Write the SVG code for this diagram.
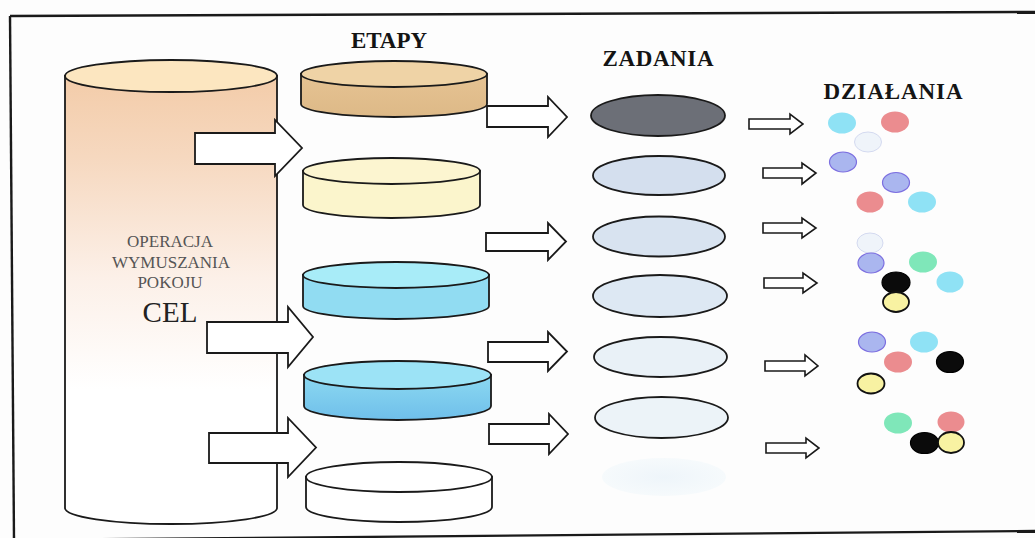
<svg xmlns="http://www.w3.org/2000/svg" width="1035" height="538" viewBox="0 0 1035 538">
<style>
.ln{stroke:#1a1a1a;stroke-width:1.8;fill:none}
.arr{fill:#fff;stroke:#1a1a1a;stroke-width:1.8;stroke-linejoin:miter}
.sarr{fill:#fff;stroke:#1a1a1a;stroke-width:1.6}
.ttl{font-family:"Liberation Serif","Times New Roman",serif;font-weight:bold;font-size:23px;fill:#141414;text-anchor:middle}
.lbl{font-family:"Liberation Serif","Times New Roman",serif;font-size:17px;fill:#555;text-anchor:middle}
.zad{stroke:#1a1a1a;stroke-width:1.8}
.cy{fill:#8fe2f5}.pk{fill:#eb8c8f}.lv{fill:#aab6ef;stroke:#7c6fe0;stroke-width:1.2}
.lt{fill:#eff4fa;stroke:#d4daf0;stroke-width:1}.gr{fill:#7fe7b9}
.bk{fill:#0b0b0b;stroke:#000;stroke-width:1.2}.ye{fill:#f8f2a2;stroke:#111;stroke-width:1.8}
</style>
<defs>
<linearGradient id="gCyl" x1="0" y1="0" x2="0" y2="1">
<stop offset="0" stop-color="#f3cca9"/>
<stop offset="0.18" stop-color="#f6d8bf"/>
<stop offset="0.45" stop-color="#fcf0e8"/>
<stop offset="0.7" stop-color="#ffffff"/>
<stop offset="1" stop-color="#ffffff"/>
</linearGradient>
<linearGradient id="gTan" x1="0" y1="0" x2="0" y2="1">
<stop offset="0" stop-color="#e6c393"/>
<stop offset="1" stop-color="#ddb987"/>
</linearGradient>
<linearGradient id="gBlue" x1="0" y1="0" x2="0" y2="1">
<stop offset="0" stop-color="#8cd9f1"/>
<stop offset="1" stop-color="#6fbfea"/>
</linearGradient>
<radialGradient id="gFaint" cx="0.5" cy="0.5" r="0.5">
<stop offset="0" stop-color="#eef5fa"/>
<stop offset="1" stop-color="#f6fafc"/>
</radialGradient>
</defs>
<rect width="1035" height="538" fill="#fdfdfd"/>
<g id="frame" class="ln" style="stroke-width:2.4">
<line x1="10" y1="16" x2="1035" y2="12"/>
<line x1="10" y1="16" x2="14" y2="540"/>
<line x1="11" y1="540" x2="1035" y2="531"/>
</g>

<g id="cel">
<path d="M65,76 L65,508 A106,16 0 0 0 277,508 L277,76 Z" fill="url(#gCyl)" class="ln" style="fill:url(#gCyl)"/>
<ellipse cx="171" cy="76" rx="106" ry="16" fill="#fce6c0" stroke="#1a1a1a" stroke-width="1.8"/>
<text class="lbl" x="170" y="247">OPERACJA</text>
<text class="lbl" x="171" y="268">WYMUSZANIA</text>
<text class="lbl" x="170" y="288">POKOJU</text>
<text x="170" y="322" font-family="Liberation Serif, Times New Roman, serif" font-size="29" fill="#222" text-anchor="middle">CEL</text>
</g>

<text id="t-etapy" class="ttl" x="389" y="48">ETAPY</text>
<text id="t-zadania" class="ttl" x="658" y="66" textLength="111">ZADANIA</text>
<text id="t-dzialania" class="ttl" x="893" y="99" textLength="139">DZIAŁANIA</text>

<g id="etap1">
<path d="M301,74 L301,104 A93,13 0 0 0 487,104 L487,74 Z" fill="url(#gTan)" stroke="#1a1a1a" stroke-width="1.8"/>
<ellipse cx="394" cy="74" rx="93" ry="13" fill="#efd3a6" stroke="#1a1a1a" stroke-width="1.8"/>
</g>
<g id="etap2">
<path d="M303,171 L303,205 A88.5,13 0 0 0 480,205 L480,171 Z" fill="#fbf5cc" stroke="#1a1a1a" stroke-width="1.8"/>
<ellipse cx="391.5" cy="171" rx="88.5" ry="13" fill="#fcf5d0" stroke="#1a1a1a" stroke-width="1.8"/>
</g>
<g id="etap3">
<path d="M303,275 L303,306 A93,13 0 0 0 489,306 L489,275 Z" fill="#91dcf2" stroke="#1a1a1a" stroke-width="1.8"/>
<ellipse cx="396" cy="275" rx="93" ry="13" fill="#a8ecf8" stroke="#1a1a1a" stroke-width="1.8"/>
</g>
<g id="etap4">
<path d="M304,375 L304,406 A93.5,14 0 0 0 491,406 L491,375 Z" fill="url(#gBlue)" stroke="#1a1a1a" stroke-width="1.8"/>
<ellipse cx="397.5" cy="375" rx="93.5" ry="14" fill="#9ce3f6" stroke="#1a1a1a" stroke-width="1.8"/>
</g>
<g id="etap5">
<path d="M306,477 L306,507 A93,15 0 0 0 492,507 L492,477 Z" fill="#fff" stroke="#1a1a1a" stroke-width="1.8"/>
<ellipse cx="399" cy="477" rx="93" ry="15" fill="#fff" stroke="#1a1a1a" stroke-width="1.8"/>
</g>

<g id="zad1"><ellipse class="zad" cx="658" cy="115.5" rx="67" ry="20.5" fill="#6c6f77"/></g>
<g id="zad2"><ellipse class="zad" cx="659" cy="175.5" rx="66" ry="19.5" fill="#d4dfee"/></g>
<g id="zad3"><ellipse class="zad" cx="659" cy="236.5" rx="66" ry="20" fill="#d8e3f0"/></g>
<g id="zad4"><ellipse class="zad" cx="660" cy="296" rx="67" ry="21" fill="#dde8f3"/></g>
<g id="zad5"><ellipse class="zad" cx="660.5" cy="357" rx="66.5" ry="20" fill="#e9f1f7"/></g>
<g id="zad6"><ellipse class="zad" cx="661.5" cy="417.5" rx="66.5" ry="20.5" fill="#ecf3f8"/></g>
<g id="zad7"><ellipse cx="664" cy="477" rx="62" ry="19" fill="url(#gFaint)"/></g>

<g id="dzialania">
<ellipse class="cy" cx="842" cy="123" rx="14" ry="10.5"/>
<ellipse class="pk" cx="895" cy="122" rx="14" ry="10.5"/>
<ellipse class="lt" cx="868" cy="142" rx="13.5" ry="10"/>
<ellipse class="lv" cx="843" cy="162" rx="13.5" ry="10"/>
<ellipse class="lv" cx="896" cy="182.5" rx="13.5" ry="10"/>
<ellipse class="pk" cx="870" cy="202" rx="13.5" ry="10.5"/>
<ellipse class="cy" cx="922" cy="202" rx="14" ry="10.5"/>
<ellipse class="lt" cx="870" cy="243" rx="13" ry="10"/>
<ellipse class="lv" cx="871" cy="263" rx="13" ry="10"/>
<ellipse class="gr" cx="923" cy="262" rx="14" ry="10.5"/>
<ellipse class="bk" cx="896" cy="282.5" rx="14" ry="10.5"/>
<ellipse class="cy" cx="950" cy="282" rx="13.5" ry="10.5"/>
<ellipse class="ye" cx="896" cy="302" rx="13" ry="10"/>
<ellipse class="lv" cx="872" cy="342" rx="13.5" ry="10"/>
<ellipse class="cy" cx="924" cy="342" rx="14" ry="10.5"/>
<ellipse class="pk" cx="898" cy="362" rx="14" ry="10.5"/>
<ellipse class="bk" cx="950" cy="362" rx="13.5" ry="10.5"/>
<ellipse class="ye" cx="871" cy="383.5" rx="13.5" ry="10"/>
<ellipse class="gr" cx="898" cy="423" rx="14" ry="10.5"/>
<ellipse class="pk" cx="951" cy="422" rx="13.5" ry="10.5"/>
<ellipse class="bk" cx="924.5" cy="443" rx="14" ry="10.5"/>
<ellipse class="ye" cx="951" cy="442.5" rx="13" ry="10.5"/>
</g>

<g id="connectors">
<polygon class="arr" points="195,133 275,133 275,120 302,148 275,176 275,164 195,164"/>
<polygon class="arr" points="207,322 288,322 288,307 313,337 288,367 288,353 207,353"/>
<polygon class="arr" points="209,433 288,433 288,418 316,447.5 288,477 288,463 209,463"/>
<polygon class="arr" points="487,106 548,106 548,97 567,117 548,137 548,127 487,127"/>
<polygon class="arr" points="486,233 548,233 548,223 566,241.5 548,260 548,251 486,251"/>
<polygon class="arr" points="488,342 548,342 548,332 567,351.5 548,371 548,362 488,362"/>
<polygon class="arr" points="489,424 549,424 549,414 568,434 549,454 549,444 489,444"/>
<polygon class="sarr" points="749,119 790,119 790,114 803,124 790,134 790,129 749,129"/>
<polygon class="sarr" points="763,168 802,168 802,163 816,173 802,184 802,178 763,178"/>
<polygon class="sarr" points="763,223 802,223 802,218 816,228 802,238 802,233 763,233"/>
<polygon class="sarr" points="764,278 803,278 803,273 817,283 803,293 803,288 764,288"/>
<polygon class="sarr" points="765,361 805,361 805,355 818,366 805,376 805,371 765,371"/>
<polygon class="sarr" points="766,443 806,443 806,438 819,448 806,458 806,453 766,453"/>
</g>
</svg>
